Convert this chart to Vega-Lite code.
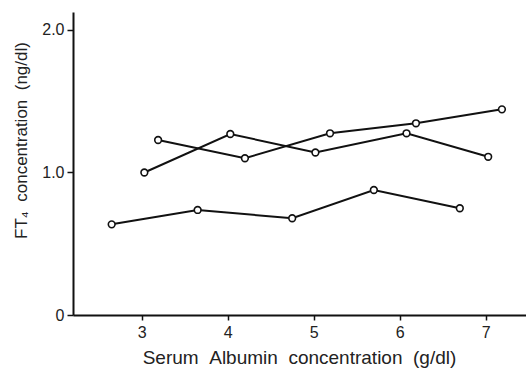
{
  "$schema": "https://vega.github.io/schema/vega-lite/v6.json",
  "width": 453,
  "height": 303,
  "autosize": {"type": "none"},
  "padding": {"left": 73, "top": 12, "right": 0, "bottom": 54},
  "background": "white",
  "config": {
    "view": {"stroke": null},
    "font": "Liberation Sans",
    "axis": {"grid": false, "domainColor": "#111", "domainWidth": 2, "tickColor": "#111", "tickWidth": 1.5, "labelColor": "#222", "titleColor": "#222", "labelFontSize": 16, "titleFontSize": 19, "titleFontWeight": "normal", "labelFont": "Liberation Sans", "titleFont": "Liberation Sans"}
  },
  "data": {
    "values": [
      {"series": "A", "albumin": 2.65, "ft4": 0.636},
      {"series": "A", "albumin": 3.65, "ft4": 0.737},
      {"series": "A", "albumin": 4.75, "ft4": 0.679},
      {"series": "A", "albumin": 5.70, "ft4": 0.877},
      {"series": "A", "albumin": 6.70, "ft4": 0.749},
      {"series": "B", "albumin": 3.03, "ft4": 1.0},
      {"series": "B", "albumin": 4.03, "ft4": 1.27},
      {"series": "B", "albumin": 5.02, "ft4": 1.14},
      {"series": "B", "albumin": 6.08, "ft4": 1.275},
      {"series": "B", "albumin": 7.03, "ft4": 1.11},
      {"series": "C", "albumin": 3.19, "ft4": 1.228},
      {"series": "C", "albumin": 4.20, "ft4": 1.10},
      {"series": "C", "albumin": 5.19, "ft4": 1.275},
      {"series": "C", "albumin": 6.19, "ft4": 1.345},
      {"series": "C", "albumin": 7.19, "ft4": 1.443}
    ]
  },
  "encoding": {
    "x": {
      "field": "albumin", "type": "quantitative",
      "scale": {"domain": [2.2, 7.47], "nice": false, "zero": false},
      "axis": {"values": [3, 4, 5, 6, 7], "format": "d", "tickSize": 5, "labelPadding": 4, "title": "Serum\u00a0\u00a0Albumin\u00a0\u00a0concentration\u00a0\u00a0(g/dl)", "titleX": 226, "titlePadding": 8}
    },
    "y": {
      "field": "ft4", "type": "quantitative",
      "scale": {"domain": [0, 2.126], "nice": false},
      "axis": {"values": [0, 1, 2], "labelExpr": "datum.value == 0 ? '0' : format(datum.value, '.1f')", "tickSize": 6, "labelPadding": 3, "title": "FT₄\u00a0\u00a0concentration\u00a0\u00a0(ng/dl)", "titleFontSize": 17, "titleY": 128, "titlePadding": 11}
    }
  },
  "layer": [
    {
      "mark": {"type": "line", "color": "#111", "strokeWidth": 2},
      "encoding": {"detail": {"field": "series"}, "order": {"field": "albumin"}}
    },
    {
      "mark": {"type": "point", "shape": "circle", "filled": true, "fill": "white", "stroke": "#111", "strokeWidth": 1.6, "size": 45, "opacity": 1}
    }
  ]
}
